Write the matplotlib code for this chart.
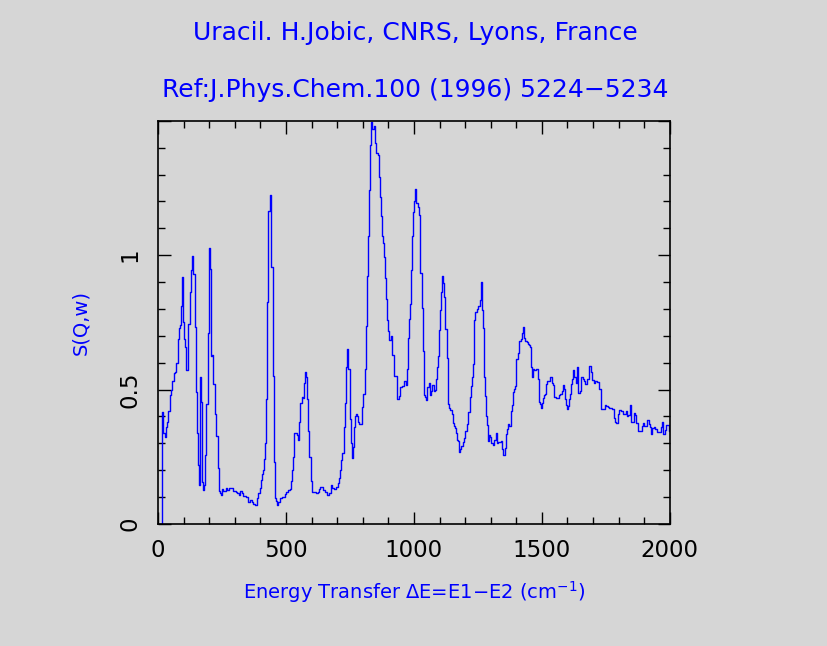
import matplotlib
matplotlib.use("Agg")
import matplotlib.pyplot as plt
from matplotlib.ticker import MultipleLocator

# energy transfer (cm-1), left edge of each histogram step
energy = [0, 15, 21, 27, 33, 36, 40, 46, 51, 56, 61, 66, 72, 77, 82, 87, 90, 92, 96, 100,
          104, 108, 111, 118, 124, 128, 132, 138, 145, 150, 154, 158, 160, 163, 165, 169,
          173, 177, 181, 184, 189, 195, 199, 203, 208, 212, 217, 223, 228, 233, 237, 241,
          246, 250, 255, 264, 270, 277, 286, 293, 303, 310, 316, 322, 327, 332, 345, 353,
          358, 366, 371, 379, 387, 392, 397, 402, 408, 411, 415, 419, 423, 427, 431, 437,
          443, 448, 452, 456, 462, 466, 470, 475, 486, 496, 501, 509, 514, 521, 525, 529,
          533, 536, 542, 547, 552, 556, 561, 566, 570, 574, 578, 583, 587, 592, 598, 603,
          608, 618, 624, 629, 635, 645, 651, 661, 668, 676, 681, 686, 697, 702, 707, 712,
          716, 720, 725, 729, 733, 738, 744, 749, 753, 757, 763, 767, 771, 775, 779, 783,
          787, 797, 802, 807, 812, 818, 822, 825, 828, 832, 837, 844, 849, 853, 858, 862,
          866, 870, 874, 878, 882, 886, 891, 895, 899, 904, 909, 914, 922, 927, 935, 940,
          945, 953, 961, 968, 973, 978, 982, 986, 990, 994, 998, 1002, 1006, 1009, 1015,
          1020, 1025, 1030, 1035, 1039, 1044, 1048, 1053, 1057, 1062, 1068, 1072, 1077,
          1081, 1085, 1089, 1093, 1097, 1100, 1106, 1110, 1114, 1117, 1123, 1128, 1133,
          1137, 1142, 1147, 1153, 1157, 1161, 1165, 1169, 1174, 1178, 1182, 1185, 1191,
          1196, 1201, 1209, 1213, 1218, 1222, 1226, 1231, 1235, 1240, 1247, 1252, 1257,
          1262, 1266, 1270, 1274, 1278, 1282, 1285, 1290, 1295, 1298, 1303, 1309, 1314,
          1319, 1324, 1330, 1340, 1345, 1349, 1354, 1359, 1363, 1367, 1372, 1379, 1383,
          1387, 1391, 1395, 1399, 1407, 1412, 1417, 1422, 1426, 1431, 1435, 1440, 1445,
          1449, 1453, 1458, 1462, 1466, 1471, 1478, 1486, 1490, 1494, 1498, 1502, 1506,
          1509, 1513, 1517, 1521, 1530, 1538, 1543, 1547, 1555, 1560, 1565, 1572, 1577,
          1582, 1586, 1591, 1595, 1599, 1603, 1607, 1611, 1615, 1619, 1623, 1627, 1632,
          1636, 1640, 1643, 1649, 1653, 1659, 1664, 1668, 1677, 1684, 1688, 1693, 1697,
          1702, 1707, 1717, 1723, 1731, 1746, 1751, 1757, 1764, 1772, 1780, 1785, 1791,
          1796, 1801, 1811, 1816, 1827, 1832, 1838, 1843, 1848, 1859, 1864, 1869, 1874,
          1891, 1895, 1900, 1910, 1917, 1922, 1927, 1932, 1938, 1943, 1948, 1964, 1969,
          1975, 1980, 1986, 1996, 2000]

s_qw = [0.0, 0.418, 0.337, 0.325, 0.36, 0.38, 0.42, 0.48, 0.50, 0.53, 0.56, 0.567, 0.60,
        0.687, 0.73, 0.74, 0.81, 0.92, 0.75, 0.687, 0.66, 0.61, 0.573, 0.743, 0.862, 0.944,
        0.997, 0.93, 0.734, 0.49, 0.337, 0.22, 0.143, 0.25, 0.548, 0.453, 0.155, 0.127,
        0.145, 0.256, 0.447, 0.712, 1.026, 0.948, 0.625, 0.63, 0.52, 0.41, 0.328, 0.207,
        0.123, 0.114, 0.108, 0.129, 0.123, 0.133, 0.127, 0.133, 0.135, 0.123, 0.12, 0.114,
        0.108, 0.123, 0.114, 0.105, 0.10, 0.083, 0.09, 0.08, 0.073, 0.07, 0.096, 0.114,
        0.133, 0.164, 0.185, 0.20, 0.24, 0.30, 0.464, 0.825, 1.164, 1.225, 0.955, 0.55,
        0.23, 0.096, 0.087, 0.07, 0.083, 0.096, 0.10, 0.112, 0.12, 0.127, 0.13, 0.16, 0.20,
        0.25, 0.337, 0.34, 0.33, 0.313, 0.38, 0.45, 0.474, 0.47, 0.526, 0.565, 0.548, 0.464,
        0.346, 0.25, 0.16, 0.118, 0.12, 0.114, 0.12, 0.13, 0.139, 0.127, 0.117, 0.108,
        0.114, 0.145, 0.133, 0.129, 0.139, 0.151, 0.17, 0.20, 0.238, 0.265, 0.36, 0.449,
        0.585, 0.65, 0.576, 0.39, 0.30, 0.244, 0.288, 0.36, 0.40, 0.41, 0.40, 0.38, 0.37,
        0.434, 0.484, 0.577, 0.737, 0.924, 1.073, 1.243, 1.41, 1.497, 1.47, 1.48, 1.417,
        1.38, 1.373, 1.29, 1.216, 1.144, 1.072, 1.047, 0.995, 0.914, 0.836, 0.757, 0.716,
        0.685, 0.70, 0.627, 0.55, 0.552, 0.464, 0.476, 0.511, 0.514, 0.53, 0.517, 0.576,
        0.69, 0.762, 0.819, 0.943, 1.07, 1.159, 1.20, 1.247, 1.194, 1.18, 1.15, 0.935,
        0.803, 0.645, 0.48, 0.474, 0.46, 0.508, 0.526, 0.48, 0.495, 0.517, 0.493, 0.497,
        0.538, 0.585, 0.623, 0.722, 0.797, 0.862, 0.923, 0.896, 0.846, 0.725, 0.617, 0.447,
        0.433, 0.424, 0.408, 0.377, 0.366, 0.356, 0.337, 0.313, 0.31, 0.267, 0.28, 0.29,
        0.306, 0.319, 0.347, 0.372, 0.418, 0.471, 0.514, 0.548, 0.595, 0.757, 0.789, 0.80,
        0.811, 0.834, 0.90, 0.797, 0.728, 0.548, 0.476, 0.402, 0.368, 0.309, 0.331, 0.325,
        0.30, 0.294, 0.313, 0.34, 0.30, 0.306, 0.309, 0.278, 0.257, 0.282, 0.335, 0.352,
        0.372, 0.365, 0.42, 0.443, 0.489, 0.501, 0.514, 0.613, 0.635, 0.682, 0.687, 0.712,
        0.732, 0.691, 0.682, 0.676, 0.67, 0.666, 0.658, 0.583, 0.548, 0.577, 0.571, 0.576,
        0.541, 0.452, 0.445, 0.433, 0.449, 0.468, 0.48, 0.482, 0.52, 0.53, 0.548, 0.526,
        0.517, 0.471, 0.468, 0.467, 0.48, 0.482, 0.495, 0.517, 0.501, 0.464, 0.443, 0.427,
        0.437, 0.464, 0.484, 0.52, 0.541, 0.573, 0.548, 0.524, 0.583, 0.557, 0.486, 0.493,
        0.546, 0.541, 0.53, 0.521, 0.541, 0.586, 0.589, 0.567, 0.536, 0.526, 0.533, 0.527,
        0.501, 0.428, 0.441, 0.439, 0.435, 0.43, 0.428, 0.394, 0.381, 0.375, 0.409, 0.424,
        0.42, 0.409, 0.42, 0.40, 0.406, 0.441, 0.38, 0.412, 0.406, 0.375, 0.346, 0.365,
        0.375, 0.365, 0.385, 0.372, 0.362, 0.335, 0.356, 0.36, 0.352, 0.342, 0.36, 0.378,
        0.335, 0.35, 0.368, 0.344, 0.344]

title1 = "Uracil. H.Jobic, CNRS, Lyons, France"
title2 = "Ref:J.Phys.Chem.100 (1996) 5224\u22125234"
xlabel = "Energy Transfer \u0394E=E1\u2212E2 (cm$^{-1}$)"
ylabel = "S(Q,w)"


def main():
    bg = "#d6d6d6"
    fig = plt.figure(figsize=(8.27, 6.46), dpi=100, facecolor=bg)
    ax = fig.add_axes([0.191, 0.189, 0.619, 0.624], facecolor=bg)

    ax.plot(energy, s_qw, drawstyle="steps-post", color="#0000ff", lw=1.0)

    ax.set_xlim(0, 2000)
    ax.set_ylim(0, 1.5)
    ax.set_xticks([0, 500, 1000, 1500, 2000])
    ax.set_yticks([0, 0.5, 1, 1.5], labels=["0", "0.5", "1", ""])
    ax.xaxis.set_minor_locator(MultipleLocator(100))
    ax.yaxis.set_minor_locator(MultipleLocator(0.1))
    ax.tick_params(which="both", direction="in", top=True, right=True, color="black", width=1)
    ax.tick_params(which="major", length=9, labelsize=16.5, labelcolor="black")
    ax.tick_params(which="minor", length=5)
    ax.tick_params(axis="x", pad=11)
    ax.tick_params(axis="y", pad=12)
    for lab in ax.get_yticklabels():
        lab.set_rotation(90)
        lab.set_va("center")
    for sp in ax.spines.values():
        sp.set_linewidth(1.2)
        sp.set_color("black")

    fig.text(0.502, 0.949, title1, color="#0000ff", fontsize=18, ha="center", va="center")
    fig.text(0.502, 0.861, title2, color="#0000ff", fontsize=18, ha="center", va="center")
    ax.set_xlabel(xlabel, color="#0000ff", fontsize=14, labelpad=12)
    ax.set_ylabel(ylabel, color="#0000ff", fontsize=14, labelpad=20)

    fig.savefig("out.png", dpi=100, facecolor=bg)


if __name__ == "__main__":
    main()
